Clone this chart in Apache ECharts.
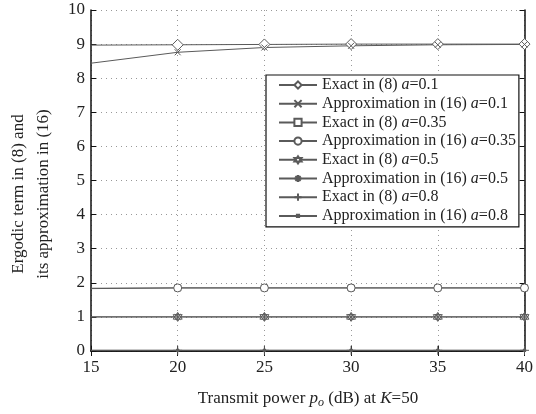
<!DOCTYPE html>
<html><head><meta charset="utf-8">
<script src="https://cdn.jsdelivr.net/npm/echarts@6/dist/echarts.min.js"></script>
<style>html,body{margin:0;padding:0;background:#fff}#c{width:536px;height:414px}</style>
</head><body><div id="c"></div>
<script>
const xValues = [15, 20, 25, 30, 35, 40];
const exact01 = [8.97, 8.98, 8.99, 9.0, 9.0, 9.0];
const approx01 = [8.44, 8.76, 8.90, 8.95, 8.98, 8.99];
const exact035 = [1.83, 1.85, 1.85, 1.85, 1.85, 1.85];
const approx035 = [1.84, 1.85, 1.85, 1.85, 1.85, 1.85];
const exact05 = [1.0, 1.0, 1.0, 1.0, 1.0, 1.0];
const approx05 = [1.0, 1.0, 1.0, 1.0, 1.0, 1.0];
const exact08 = [0.02, 0.02, 0.02, 0.02, 0.02, 0.02];
const approx08 = [0.02, 0.02, 0.02, 0.02, 0.02, 0.02];
const legendLabels = [
  ['Exact in (8) ', '0.1'],
  ['Approximation in (16) ', '0.1'],
  ['Exact in (8) ', '0.35'],
  ['Approximation in (16) ', '0.35'],
  ['Exact in (8) ', '0.5'],
  ['Approximation in (16) ', '0.5'],
  ['Exact in (8) ', '0.8'],
  ['Approximation in (16) ', '0.8']
];
const seriesValues = [exact01, approx01, exact035, approx035, exact05, approx05, exact08, approx08];

const FONT = '"Liberation Serif", "DejaVu Serif", serif';
const LINE = '#5a5a5a';
const symbols = [
  {s: 'path://M5,0L9,6L5,12L1,6Z', size: 11},
  {s: 'path://M0,0L10,10M0,10L10,0', size: 6},
  {s: 'path://M0,0H10V10H0Z', size: 6},
  {s: 'path://M0,5A5,5 0 1,1 10,5A5,5 0 1,1 0,5Z', size: 8},
  {s: 'path://M5,0L9.33,7.5L0.67,7.5ZM5,10L0.67,2.5L9.33,2.5Z', size: 9},
  {s: 'path://M5,0L5,10M0,5L10,5M1.5,1.5L8.5,8.5M1.5,8.5L8.5,1.5', size: 8},
  {s: 'path://M5,0L5,10M0,5L10,5', size: 9},
  {s: 'path://M0,0M10,10M3.5,3.5h3v3h-3z', size: 8, fill: true}
];
const names = legendLabels.map((l, i) => 's' + i);
const series = seriesValues.map((vals, i) => ({
  name: names[i],
  type: 'line',
  data: vals.map((v, j) => j === 0 ? {value: [xValues[j], v], symbol: 'none'} : [xValues[j], v]),
  symbol: symbols[i].s,
  symbolSize: symbols[i].size,
  showSymbol: true,
  lineStyle: {color: LINE, width: 1},
  itemStyle: {color: symbols[i].fill ? LINE : '#fff', borderColor: LINE, borderWidth: 1},
  emphasis: {disabled: true},
  animation: false,
  z: 3
}));

const chart = echarts.init(document.getElementById('c'), null, {renderer: 'canvas'});
const axisCommon = {
  type: 'value',
  axisLine: {show: true, lineStyle: {color: '#111', width: 1.5}},
  axisTick: {show: true, inside: true, length: 5, lineStyle: {color: '#111'}},
};
chart.setOption({
  animation: false,
  grid: {left: 91, right: 9, top: 10, bottom: 63},
  legend: {
    data: names,
    orient: 'vertical',
    left: 266, top: 75,
    backgroundColor: '#fff',
    borderColor: '#111', borderWidth: 1.2,
    padding: [2, 3, 3, 12],
    itemWidth: 38, itemHeight: 9, itemGap: 2.7,
    formatter: function (n) {
      const l = legendLabels[names.indexOf(n)];
      return '{n|' + l[0] + '}{i|a}{n|=' + l[1] + '}';
    },
    textStyle: {
      fontFamily: FONT, fontSize: 16, color: '#222', lineHeight: 16,
      rich: {
        n: {fontFamily: FONT, fontSize: 16, color: '#222', lineHeight: 16},
        i: {fontFamily: FONT, fontSize: 16, color: '#222', fontStyle: 'italic', lineHeight: 16}
      }
    }
  },
  xAxis: [
    Object.assign({}, axisCommon, {
      min: 15, max: 40, interval: 5,
      axisLabel: {fontFamily: FONT, fontSize: 17, color: '#222', margin: 8},
      splitLine: {show: true, lineStyle: {color: '#999', type: [1, 4], width: 1}}
    }),
    Object.assign({}, axisCommon, {
      position: 'top', min: 15, max: 40, interval: 5,
      axisLabel: {show: false}, splitLine: {show: false}
    })
  ],
  yAxis: [
    Object.assign({}, axisCommon, {
      min: 0, max: 10, interval: 1,
      axisLabel: {fontFamily: FONT, fontSize: 17, color: '#222', margin: 6},
      splitLine: {show: true, lineStyle: {color: '#999', type: [1, 4], width: 1}}
    }),
    Object.assign({}, axisCommon, {
      position: 'right', min: 0, max: 10, interval: 1,
      axisLabel: {show: false}, splitLine: {show: false}
    })
  ],
  graphic: [
    {
      type: 'text', x: 31, y: 194, rotation: Math.PI / 2, silent: true,
      style: {
        text: 'Ergodic term in (8) and\nits approximation in (16)',
        fontFamily: FONT, fontSize: 17, fill: '#222', lineHeight: 25,
        align: 'center', verticalAlign: 'middle'
      }
    },
    {
      type: 'text', x: 308, y: 399, silent: true,
      style: {
        text: '{n|Transmit power }{i|p}{s|o}{n| (dB) at }{i|K}{n|=50}',
        align: 'center', verticalAlign: 'middle',
        fontFamily: FONT, fontSize: 17, fill: '#222',
        rich: {
          n: {fontFamily: FONT, fontSize: 17, fill: '#222', lineHeight: 20},
          i: {fontFamily: FONT, fontSize: 17, fill: '#222', fontStyle: 'italic', lineHeight: 20},
          s: {fontFamily: FONT, fontSize: 12, fill: '#222', fontStyle: 'italic', lineHeight: 20, verticalAlign: 'bottom', padding: [8, 0, 0, 0]}
        }
      }
    }
  ],
  series: series
});
</script>
</body></html>
